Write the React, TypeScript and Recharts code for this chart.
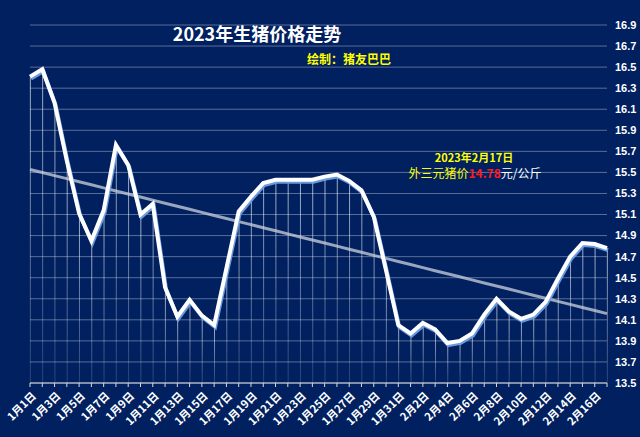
import { Bar, CartesianGrid, ComposedChart, Line, XAxis, YAxis } from "recharts";

const dates = [
  "1月1日", "1月2日", "1月3日", "1月4日", "1月5日", "1月6日", "1月7日", "1月8日",
  "1月9日", "1月10日", "1月11日", "1月12日", "1月13日", "1月14日", "1月15日", "1月16日",
  "1月17日", "1月18日", "1月19日", "1月20日", "1月21日", "1月22日", "1月23日", "1月24日",
  "1月25日", "1月26日", "1月27日", "1月28日", "1月29日", "1月30日", "1月31日", "2月1日",
  "2月2日", "2月3日", "2月4日", "2月5日", "2月6日", "2月7日", "2月8日", "2月9日",
  "2月10日", "2月11日", "2月12日", "2月13日", "2月14日", "2月15日", "2月16日", "2月17日",
];

const prices = [
  16.41, 16.48, 16.16, 15.61, 15.11, 14.85, 15.14, 15.76,
  15.57, 15.1, 15.2, 14.41, 14.13, 14.29, 14.14, 14.05,
  14.59, 15.13, 15.27, 15.4, 15.43, 15.43, 15.43, 15.43,
  15.46, 15.48, 15.42, 15.33, 15.08, 14.57, 14.05, 13.97,
  14.07, 14.01, 13.88, 13.9, 13.97, 14.15, 14.3, 14.18,
  14.11, 14.15, 14.27, 14.49, 14.7, 14.83, 14.82, 14.78,
];

const yTicks = [
  13.5, 13.7, 13.9, 14.1, 14.3, 14.5, 14.7, 14.9, 15.1,
  15.3, 15.5, 15.7, 15.9, 16.1, 16.3, 16.5, 16.7, 16.9,
];

const title = "2023年生猪价格走势";
const credit = "绘制：猪友巴巴";
const noteDate = "2023年2月17日";
const notePrefix = "外三元猪价";
const noteValue = "14.78";
const noteUnit = "元/公斤";

// linear trendline (least squares), same as the spreadsheet one
function linearTrend(values: number[]) {
  const n = values.length;
  const mx = (n - 1) / 2;
  const my = values.reduce((s, v) => s + v, 0) / n;
  let num = 0;
  let den = 0;
  values.forEach((v, i) => {
    num += (i - mx) * (v - my);
    den += (i - mx) * (i - mx);
  });
  const slope = num / den;
  return values.map((_, i) => my + slope * (i - mx));
}

const trend = linearTrend(prices);
const rows = prices.map((price, index) => ({ index, price, trend: trend[index] }));

const CJK = "'Noto Sans CJK SC', 'Noto Sans', sans-serif";

function DateTick({ x, y, payload }: any) {
  if (payload.value % 2 !== 0) return <g />;
  const ax = x + 4;
  return (
    <text
      x={ax}
      y={y}
      dy="0.35em"
      transform={`rotate(-45, ${ax}, ${y})`}
      textAnchor="end"
      fill="#ffffff"
      fontSize={11}
      fontWeight={700}
      fontFamily={CJK}
    >
      {dates[payload.value]}
    </text>
  );
}

export default function App() {
  return (
    <div
      style={{
        position: "relative",
        width: 640,
        height: 437,
        background: "#002060",
        fontFamily: CJK,
        overflow: "hidden",
      }}
    >
      <style>{`
        body { margin: 0; }
        .price-line .recharts-line-curve { filter: drop-shadow(1px 2px 0 rgba(110, 160, 225, 0.95)); }
      `}</style>
      <ComposedChart
        width={640}
        height={437}
        data={rows}
        margin={{ top: 25, right: 0, bottom: 0, left: 30 }}
      >
        <defs>
          <linearGradient id="dropFill" x1="0" y1="0" x2="0" y2="1">
            <stop offset="0%" stopColor="#ffffff" stopOpacity={0.65} />
            <stop offset="100%" stopColor="#ffffff" stopOpacity={0.15} />
          </linearGradient>
        </defs>
        <CartesianGrid vertical={false} stroke="rgba(255,255,255,0.35)" />
        <XAxis
          type="number"
          dataKey="index"
          domain={[0, 47]}
          ticks={rows.map((r) => r.index)}
          interval={0}
          height={54}
          tickSize={4}
          tickMargin={7}
          stroke="#d9d9d9"
          tick={<DateTick />}
        />
        <YAxis
          orientation="right"
          domain={[13.5, 16.9]}
          ticks={yTicks}
          interval={0}
          width={33}
          axisLine={false}
          tickLine={false}
          tickSize={0}
          tickMargin={8}
          tick={{
            fill: "#ffffff",
            fontSize: 11,
            fontWeight: 700,
            fontFamily: "'Liberation Sans', Arial, sans-serif",
          }}
        />
        <Bar dataKey="price" barSize={1} fill="url(#dropFill)" isAnimationActive={false} />
        <Line
          type="linear"
          dataKey="trend"
          stroke="rgba(205,210,222,0.75)"
          strokeWidth={3}
          dot={false}
          activeDot={false}
          isAnimationActive={false}
        />
        <Line
          className="price-line"
          type="linear"
          dataKey="price"
          stroke="#ffffff"
          strokeWidth={4}
          strokeLinejoin="miter"
          dot={false}
          activeDot={false}
          isAnimationActive={false}
        />
      </ComposedChart>

      <div
        style={{
          position: "absolute",
          left: 257,
          top: 23,
          transform: "translateX(-50%)",
          color: "#ffffff",
          fontSize: 18,
          fontWeight: 700,
          lineHeight: "20px",
          whiteSpace: "nowrap",
        }}
      >
        {title}
      </div>
      <div
        style={{
          position: "absolute",
          left: 307,
          top: 51,
          color: "#ffff00",
          fontSize: 12,
          fontWeight: 700,
          lineHeight: "16px",
          whiteSpace: "nowrap",
        }}
      >
        {credit}
      </div>
      <div
        style={{
          position: "absolute",
          left: 474,
          top: 149,
          transform: "translateX(-50%)",
          color: "#ffff00",
          fontSize: 11,
          fontWeight: 700,
          lineHeight: "16px",
          whiteSpace: "nowrap",
        }}
      >
        {noteDate}
      </div>
      <div
        style={{
          position: "absolute",
          left: 475,
          top: 165,
          transform: "translateX(-50%)",
          fontSize: 12,
          lineHeight: "16px",
          whiteSpace: "nowrap",
        }}
      >
        <span style={{ color: "#ffff00" }}>{notePrefix}</span>
        <span style={{ color: "#ff1a1a", fontWeight: 700 }}>{noteValue}</span>
        <span style={{ color: "#ffffff" }}>{noteUnit}</span>
      </div>
    </div>
  );
}
